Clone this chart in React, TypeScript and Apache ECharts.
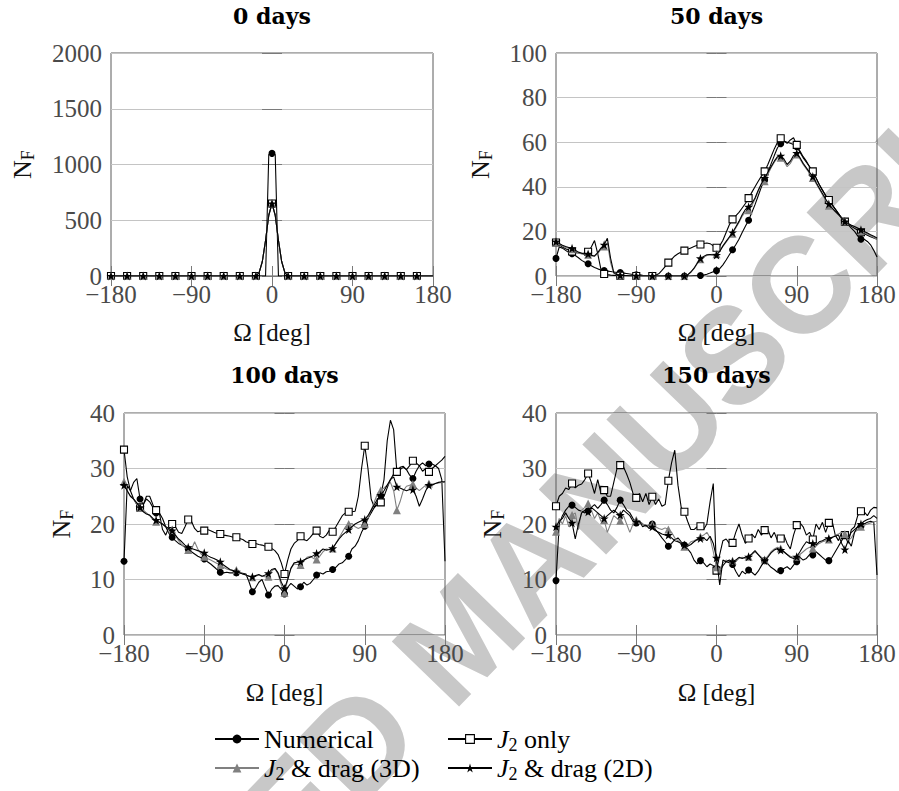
import React, { useEffect, useRef } from 'react';
import * as echarts from 'echarts';

// ---------- data ----------
// Omega grid: bin centres every 3.6 deg from -180 to 180 (101 samples)
const OMEGA: number[] = Array.from({ length: 101 }, (_, k) => Math.round((-180 + 3.6 * k) * 10) / 10);

const PANEL_TITLES = ['0 days', '50 days', '100 days', '150 days'];
const Y_MAX = [2000, 100, 40, 40];
const Y_STEP = [500, 20, 10, 10];
const SERIES_NAMES = ['Numerical', 'J2 only', 'J2 & drag (3D)', 'J2 & drag (2D)'];

// ---- 0 days ----
const P1_NUMERICAL = [
  0, 0, 0, 0, 0, 0, 0, 0, 0, 0,
  0, 0, 0, 0, 0, 0, 0, 0, 0, 0,
  0, 0, 0, 0, 0, 0, 0, 0, 0, 0,
  0, 0, 0, 0, 0, 0, 0, 0, 0, 0,
  0, 0, 0, 0, 0, 0, 0, 0, 0, 1090,
  1100, 1090, 0, 0, 0, 0, 0, 0, 0, 0,
  0, 0, 0, 0, 0, 0, 0, 0, 0, 0,
  0, 0, 0, 0, 0, 0, 0, 0, 0, 0,
  0, 0, 0, 0, 0, 0, 0, 0, 0, 0,
  0, 0, 0, 0, 0, 0, 0, 0, 0, 0,
  0,
];
const P1_J2 = [
  0, 0, 0, 0, 0, 0, 0, 0, 0, 0,
  0, 0, 0, 0, 0, 0, 0, 0, 0, 0,
  0, 0, 0, 0, 0, 0, 0, 0, 0, 0,
  0, 0, 0, 0, 0, 0, 0, 0, 0, 0,
  0, 0, 0, 0, 0, 0, 30, 130, 320, 545,
  650, 545, 320, 130, 30, 0, 0, 0, 0, 0,
  0, 0, 0, 0, 0, 0, 0, 0, 0, 0,
  0, 0, 0, 0, 0, 0, 0, 0, 0, 0,
  0, 0, 0, 0, 0, 0, 0, 0, 0, 0,
  0, 0, 0, 0, 0, 0, 0, 0, 0, 0,
  0,
];
const P1_DRAG3D = [
  0, 0, 0, 0, 0, 0, 0, 0, 0, 0,
  0, 0, 0, 0, 0, 0, 0, 0, 0, 0,
  0, 0, 0, 0, 0, 0, 0, 0, 0, 0,
  0, 0, 0, 0, 0, 0, 0, 0, 0, 0,
  0, 0, 0, 0, 0, 0, 30, 130, 320, 545,
  650, 545, 320, 130, 30, 0, 0, 0, 0, 0,
  0, 0, 0, 0, 0, 0, 0, 0, 0, 0,
  0, 0, 0, 0, 0, 0, 0, 0, 0, 0,
  0, 0, 0, 0, 0, 0, 0, 0, 0, 0,
  0, 0, 0, 0, 0, 0, 0, 0, 0, 0,
  0,
];
const P1_DRAG2D = [
  0, 0, 0, 0, 0, 0, 0, 0, 0, 0,
  0, 0, 0, 0, 0, 0, 0, 0, 0, 0,
  0, 0, 0, 0, 0, 0, 0, 0, 0, 0,
  0, 0, 0, 0, 0, 0, 0, 0, 0, 0,
  0, 0, 0, 0, 0, 0, 30, 130, 320, 545,
  650, 545, 320, 130, 30, 0, 0, 0, 0, 0,
  0, 0, 0, 0, 0, 0, 0, 0, 0, 0,
  0, 0, 0, 0, 0, 0, 0, 0, 0, 0,
  0, 0, 0, 0, 0, 0, 0, 0, 0, 0,
  0, 0, 0, 0, 0, 0, 0, 0, 0, 0,
  0,
];

// ---- 50 days ----
const P2_NUMERICAL = [
  7.9,
  13, 12.5, 11.5, 10.5, 10,
  9.2, 8.2, 7, 6.2, 5.5,
  4.6, 3.8, 3.2, 2.7, 2.4,
  2.2, 2.0, 1.8, 1.6, 1.5,
  1.3, 1.1, 0.9, 0.7, 0.6,
  0.5, 0.3, 0.2, 0.1, 0,
  0, 0, 0, 0, 0,
  0, 0, 0, 0, 0,
  0, 0, 0.1, 0.1, 0.2,
  0.4, 0.8, 1.3, 1.9, 2.4,
  3.3, 5, 7.2, 9.5, 11.8,
  14, 16.5, 19.5, 22.3, 25,
  28.5, 32, 36, 40, 43,
  46.5, 50.3, 54, 57.5, 59.3,
  60.5, 60, 59.5, 59, 58,
  55.5, 53, 51, 49, 46.9,
  44, 41, 38.5, 36, 34,
  32, 30, 28, 26, 24.4,
  23, 21.5, 20, 18, 16.5,
  16.5, 15.5, 14, 11.5, 8.5,
];
const P2_J2 = [
  15,
  14, 13, 12.2, 11.5, 11,
  10.5, 10.3, 10.2, 10.3, 10.9,
  13, 15.9, 10, 3, 0.9,
  0.6, 0.4, 0.3, 0.2, 0.1,
  0.1, 0, 0, 0, 0,
  0, 0, 0, 0, 0,
  0.3, 1, 2.5, 4.2, 6,
  7.5, 9, 10, 10.8, 11.4,
  12, 12.6, 13.2, 13.8, 14.1,
  14.6, 14.8, 14.5, 13.5, 12.7,
  13.5, 16, 19.5, 23, 25.4,
  27, 28.5, 30.5, 32.5, 34.9,
  37.5, 40, 42.5, 44.8, 46.9,
  50, 53.5, 57, 60, 61.8,
  60.5, 59.5, 61, 62, 58.8,
  56, 53.5, 51.5, 49, 46.9,
  44, 41, 38.5, 36.2, 34.1,
  32, 30, 28, 26, 24.4,
  23.3, 22.3, 21.4, 20.5, 19.6,
  19, 18.3, 17.6, 17, 16.5,
];
const P2_DRAG3D = [
  15,
  14.2, 13.4, 12.8, 12.4, 12,
  11.2, 10.4, 9.9, 9.6, 9.5,
  9, 8.8, 10, 12, 13.2,
  15, 6, 1.2, 0.4, 0.3,
  0.2, 0.1, 0.1, 0.1, 0.1,
  0, 0, 0, 0, 0,
  0, 0, 0, 0, 0,
  0, 0, 0, 0, 0,
  0.5, 1.6, 3.3, 5.5, 7.5,
  8.5, 9.2, 9.6, 9.7, 9.8,
  11.2, 13.3, 15.2, 17.2, 19,
  21.5, 24, 26.8, 28.8, 29.5,
  31.5, 34.5, 38, 41, 42.5,
  45.5, 48.5, 51, 53, 53,
  51.5, 49, 50.5, 53, 54.5,
  52.5, 50, 48, 46, 44,
  41.5, 39, 36.5, 34, 31.5,
  30, 28.7, 27.3, 26, 24.5,
  23.6, 22.8, 22, 21.2, 20.2,
  19.5, 18.8, 18, 17.3, 16.5,
];
const P2_DRAG2D = [
  15.4,
  14.6, 13.8, 13.2, 12.8, 12.4,
  11.5, 10.7, 10.2, 9.9, 9.9,
  9.3, 9, 10.5, 12.5, 14,
  16.9, 8, 1.5, 0.5, 0.3,
  0.2, 0.2, 0.1, 0.1, 0.1,
  0.1, 0, 0, 0, 0,
  0, 0, 0, 0, 0,
  0, 0, 0, 0, 0,
  0.5, 1.8, 3.5, 5.8, 7.9,
  8.8, 9.5, 9.6, 9.4, 9.4,
  11, 13.5, 15.5, 17.5, 19.5,
  22, 24.5, 27.5, 29.8, 31,
  32.5, 35, 38.5, 41.5, 43.9,
  46.5, 49, 51.5, 53.5, 53.9,
  52.5, 50, 51.5, 54, 55.1,
  53, 50.5, 48.5, 46.5, 44.6,
  42, 39.5, 37, 34.5, 32.3,
  30.5, 29, 27.5, 26, 24.4,
  23.5, 22.8, 22.2, 21.5, 20.7,
  20, 19.3, 18.5, 17.8, 17,
];

// ---- 100 days ----
const P3_NUMERICAL = [
  13.3,
  27, 26, 27.5, 28.2, 24.5,
  23.5, 25, 25, 23.5, 22,
  22, 21, 19.5, 18.3, 17.6,
  17, 16.5, 16.2, 15.8, 15.5,
  15, 14.6, 14.2, 13.9, 13.7,
  13.2, 12.8, 12.3, 11.8, 11.3,
  11.2, 11.3, 11.2, 11.2, 11.2,
  11.2, 11.1, 11, 9.5, 7.8,
  8.5, 9.5, 10, 8.5, 7.2,
  8.2, 8.8, 8.9, 8.2, 7.4,
  8.6, 9.3, 8.8, 8.3, 8.7,
  9.5, 9, 9.3, 10, 10.8,
  11.2, 11, 11.4, 11.5, 11.8,
  12.2, 12.8, 13, 13.6, 14.2,
  15.5, 16, 17, 18.5, 19.6,
  21, 22, 23, 24, 25.2,
  28, 35, 38.7, 37, 29.4,
  29.8, 30.2, 29.8, 28.8, 28.2,
  29.5, 30.5, 31, 30.5, 30.8,
  30.8, 30.5, 30, 28, 13.3,
];
const P3_J2 = [
  33.4,
  28.5, 26, 24.5, 23.5, 23,
  23.5, 24.5, 24, 23, 22.5,
  22, 19, 18, 19.5, 20,
  19.5, 18.5, 18.3, 19.5, 20.8,
  20.5, 19.2, 18.6, 18.8, 18.8,
  19, 18.8, 18.5, 18.3, 18.2,
  18, 17.9, 17.8, 17.6, 17.6,
  17.4, 17.2, 16.8, 16.6, 16.4,
  16.5, 16.3, 16.2, 16, 15.9,
  15.6, 15.2, 14.5, 13, 11,
  13.5, 15.5, 16.5, 17, 17.8,
  17.2, 17, 17.6, 18.3, 18.8,
  17.8, 17.5, 18, 18.9, 18.6,
  19.5, 20.5, 21.5, 22, 22.2,
  22.2, 22.3, 25, 30, 34.1,
  30, 24.5, 23, 23.5, 23.9,
  25, 26.5, 28, 29, 29.4,
  30.2, 30.4, 29.8, 30.5, 31.4,
  31, 30.5, 29.5, 30, 29.4,
  30, 30.5, 31, 31.5, 32.2,
];
const P3_DRAG3D = [
  27.6,
  26, 25, 24.5, 23.5, 23,
  22.5, 22, 21.5, 20.8, 20.4,
  20.4, 20, 19.5, 19.2, 19,
  18, 17, 16.3, 15.8, 15.3,
  15.4, 16.8, 15.5, 14.6, 14.1,
  13.8, 13.5, 13.2, 12.9, 12.6,
  12.2, 11.9, 11.7, 11.6, 11.7,
  11.4, 11, 10.8, 10.6, 10.4,
  10.6, 10.8, 10.6, 10.5, 10.5,
  11.5, 12, 11, 9, 7.6,
  10, 12, 12.8, 12.7, 12.6,
  13.3, 14, 14.2, 13.8, 13.6,
  14.2, 15, 15.5, 15.4, 15.6,
  16.5, 17.5, 18.5, 19.5, 20,
  20.1, 19.5, 19.2, 19.5, 20,
  21, 22.5, 24, 25.5, 26.1,
  26.5, 27, 27.5, 26, 22.5,
  24, 26, 26.8, 27, 27.2,
  26.5, 26, 26.5, 27, 27.3,
  27.2, 27.3, 27.4, 27.5, 27.5,
];
const P3_DRAG2D = [
  27,
  26, 25, 24.5, 23.8, 23,
  22.2, 21.8, 21.6, 21, 20.7,
  20.3, 20, 19.5, 19.2, 18.8,
  18, 17.3, 16.8, 16.2, 15.8,
  15.6, 15.4, 15.2, 15, 14.8,
  14.3, 14, 13.8, 13.5, 13.2,
  12.6, 12.2, 11.8, 11.6, 11.4,
  11.2, 11, 10.8, 10.6, 10.5,
  10.7, 10.9, 10.6, 10.8, 11.1,
  11.8, 12, 11.2, 9.5, 8.4,
  10, 12, 13, 13.1, 13.2,
  13.5, 13.8, 14, 14.3, 14.7,
  15, 15.5, 15.3, 15.4, 15.6,
  16.5, 17.3, 18, 18.5, 19,
  19.5, 20, 20.3, 20.6, 20.8,
  21.5, 22.5, 23.5, 24.5, 25.2,
  26, 27, 28, 28.5, 26.7,
  26.5, 26.2, 26, 26.2, 26.2,
  25, 23.2, 24.5, 26, 27,
  27, 27.3, 27.5, 27.6, 27.6,
];

// ---- 150 days ----
const P4_NUMERICAL = [
  9.8,
  20, 21.5, 22.5, 23.2, 23.4,
  23, 22.5, 22.3, 22, 22.4,
  23, 23.5, 22.8, 23.5, 24.3,
  23.5, 22.5, 22, 23, 24.3,
  23.5, 22.5, 22, 21, 20.2,
  20.5, 20, 19.6, 19.8, 20,
  19, 18.3, 17.5, 16.8, 16,
  16.5, 17.2, 17.5, 16.8, 16.2,
  15.5, 14.8, 13.5, 12.8, 13.4,
  13, 12.3, 12.8, 12.5, 12,
  11.5, 12.5, 13.2, 13, 12.7,
  11.5, 10.5, 11.5, 11, 11.7,
  11.3, 10.8, 11.5, 12.5, 13.4,
  12.8, 12.2, 11.8, 11.3, 11.6,
  12, 12.3, 11.8, 12.6, 13.2,
  14, 13.5, 13.8, 14.5, 14.4,
  15, 14.5, 14, 13.5, 13.4,
  14, 15, 16, 17, 18,
  17.5, 18.5, 19, 19.5, 19.6,
  20, 20.3, 20.5, 20.3, 10.8,
];
const P4_J2 = [
  23.2,
  25, 25.5, 26.5, 26.2, 27.3,
  26.5, 27, 27.2, 28, 29.1,
  27.5, 25.5, 28, 25.5, 26.1,
  25, 25, 27.5, 30, 30.6,
  30.3, 29, 27.5, 25.5, 24.7,
  25.5, 24, 25.5, 23.5, 24.9,
  23.5, 24.5, 23.2, 23.5, 27.8,
  31, 33.3, 27, 23, 22.2,
  20.5, 19, 19, 19.5, 19.6,
  19, 20, 24, 27.3, 11.6,
  14.5, 17, 17.3, 16.5, 16.6,
  18.5, 20, 18, 16.5, 17.4,
  18.2, 17.5, 19, 18, 18.9,
  19, 17.5, 18.5, 17, 17.4,
  18, 16.5, 15.5, 18, 19.8,
  20.2, 19.5, 18, 18.5, 17.2,
  20, 19, 20.3, 18.5, 20.2,
  20.6, 18, 17, 18.5, 18,
  16.5, 19, 19.5, 21.5, 22.3,
  22.2, 21.5, 22.5, 23, 22.9,
];
const P4_DRAG3D = [
  18.6,
  21, 20, 21.5, 19.5, 21.6,
  22, 19, 22.5, 23, 23.7,
  22.5, 21, 22, 20.5, 20.7,
  18.5, 20, 21.5, 21, 20.6,
  21.5, 20, 18.5, 20, 20.7,
  20.5, 20, 19.5, 19.8, 19.9,
  19.5, 19.2, 19, 19.3, 19,
  18.5, 17.5, 17, 16.5, 15.9,
  16.2, 16.8, 17, 17.3, 17.7,
  18, 18.5, 17.5, 15, 12.2,
  11.5, 13, 13.5, 13.2, 13.4,
  13.2, 13.8, 14, 13.8, 14.1,
  14.5, 15, 14.5, 14, 13.6,
  14.2, 15, 15.5, 15.8, 15.6,
  15, 14.5, 14.2, 14, 14.1,
  14.5, 15, 15.5, 15.8, 15.6,
  16, 16.5, 16.8, 17, 17.2,
  17.5, 18, 18.2, 18.5, 18.2,
  17, 17.5, 18.5, 19, 19.5,
  19.8, 20, 20.2, 20.4, 20.5,
];
const P4_DRAG2D = [
  19.5,
  20.5, 21, 22, 21, 20.2,
  17.3, 20, 22, 22.5, 22.2,
  23, 22.5, 22, 21.5, 21,
  21.5, 22, 22.5, 22, 21.6,
  22.5, 22, 21.5, 20.5, 20.4,
  20.5, 19.5, 19.8, 19.2, 19.5,
  18.8, 18.5, 18.2, 18, 18,
  17.5, 17, 16.8, 16.5, 16.2,
  16, 16.3, 16.8, 17.2, 17.4,
  17.5, 17, 17.8, 16.5, 13.9,
  9, 13.5, 13.2, 13.5, 13.2,
  13.5, 14, 13.8, 14, 14.1,
  14.6, 15.2, 14.5, 13.8, 13.4,
  14, 14.8, 15.3, 15.6, 15.3,
  15, 14.5, 14, 13.8, 14.1,
  15, 16, 16.8, 16.5, 16.5,
  16.2, 16.8, 17, 17.3, 17.4,
  17.6, 17.8, 18, 16.5, 15.4,
  17, 16, 18.5, 19.5, 20,
  20.5, 20.8, 21, 21.5, 21,
];

const PANELS = [
  [P1_NUMERICAL, P1_J2, P1_DRAG3D, P1_DRAG2D],
  [P2_NUMERICAL, P2_J2, P2_DRAG3D, P2_DRAG2D],
  [P3_NUMERICAL, P3_J2, P3_DRAG3D, P3_DRAG2D],
  [P4_NUMERICAL, P4_J2, P4_DRAG3D, P4_DRAG2D],
];

// ---------- layout & style ----------
const GRIDS = [
  { left: 111, top: 53, width: 322, height: 223 },
  { left: 556, top: 53, width: 321, height: 223 },
  { left: 124, top: 413, width: 321, height: 222 },
  { left: 556, top: 413, width: 321, height: 222 },
];
const YLABEL_X = [22, 480, 61, 492];

const SERIF = 'Liberation Serif, serif';
const STAR = 'path://M50,0L61.2,34.5L97.6,34.5L68.2,55.9L79.4,90.5L50,69.1L20.6,90.5L31.8,55.9L2.4,34.5L38.8,34.5Z';

const STYLES = [
  { symbol: 'circle', size: 7, line: '#000', fill: '#000', border: 0 },
  { symbol: 'rect', size: 7, line: '#000', fill: '#fff', border: 1.1 },
  { symbol: 'triangle', size: 8, line: '#808080', fill: '#808080', border: 0 },
  { symbol: STAR, size: 9, line: '#000', fill: '#000', border: 0 },
];

const LEGEND_TEXT: Record<string, string> = {
  'Numerical': '{t|Numerical}',
  'J2 only': '{i|J}{sub|2}{t| only}',
  'J2 & drag (3D)': '{i|J}{sub|2}{t| & drag (3D)}',
  'J2 & drag (2D)': '{i|J}{sub|2}{t| & drag (2D)}',
};
const LEGEND_POS = [
  { left: 214, top: 724 },
  { left: 447, top: 724 },
  { left: 214, top: 753 },
  { left: 447, top: 753 },
];

const fmt = (v: number) => (v < 0 ? '\u2212' + Math.abs(v) : String(v));

function buildData(values: number[]) {
  return values.map((y, k) => {
    const pt = [OMEGA[k], y];
    return k % 5 === 0 && k < 100 ? pt : { value: pt, symbol: 'none' };
  });
}

function richText(x: number, y: number, text: string, rich: any, rotation = 0, z = 10) {
  return {
    type: 'text', x, y, rotation, z, silent: true,
    style: { text, rich, align: 'center', verticalAlign: 'middle' },
  };
}

function buildOption() {
  const xAxis: any[] = [];
  const yAxis: any[] = [];
  const series: any[] = [];
  const graphic: any[] = [];
  const tickStyle = { color: '#7a7a7a', width: 1 };
  const labelBase = { fontFamily: SERIF, fontSize: 25, color: '#4a4a4a' };

  GRIDS.forEach((g, p) => {
    const cx = g.left + g.width / 2;
    const cy = g.top + g.height / 2;
    xAxis.push({
      type: 'value', gridIndex: p, min: -180, max: 180, interval: 90, position: 'bottom',
      axisLine: { show: false },
      axisTick: { show: true, inside: true, length: 10, lineStyle: tickStyle },
      axisLabel: { ...labelBase, margin: 6, formatter: fmt, showMinLabel: true, showMaxLabel: true },
      splitLine: { show: false },
    });
    xAxis.push({
      type: 'value', gridIndex: p, min: -180, max: 180, interval: 90, position: 'top',
      axisLine: { show: false },
      axisTick: { show: true, inside: true, length: 10, lineStyle: tickStyle },
      axisLabel: { show: false },
      splitLine: { show: false },
    });
    yAxis.push({
      type: 'value', gridIndex: p, min: 0, max: Y_MAX[p], interval: Y_STEP[p], position: 'left',
      axisLine: { show: false },
      axisTick: { show: true, inside: true, length: 10, lineStyle: tickStyle },
      axisLabel: { ...labelBase, margin: 9, formatter: fmt, showMinLabel: true, showMaxLabel: true },
      splitLine: { show: true, lineStyle: { color: '#c4c4c4', width: 1 } },
    });
    yAxis.push({
      type: 'value', gridIndex: p, min: 0, max: Y_MAX[p], interval: Y_STEP[p], position: 'right',
      axisLine: { show: false },
      axisTick: { show: true, inside: true, length: 10, lineStyle: tickStyle },
      axisLabel: { show: false },
      splitLine: { show: false },
    });

    PANELS[p].forEach((vals, i) => {
      const s = STYLES[i];
      series.push({
        type: 'line',
        name: SERIES_NAMES[i],
        xAxisIndex: 2 * p,
        yAxisIndex: 2 * p,
        data: buildData(vals),
        symbol: s.symbol,
        symbolSize: s.size,
        showAllSymbol: true,
        lineStyle: { color: s.line, width: 1.1 },
        itemStyle: { color: s.fill, borderColor: s.line, borderWidth: s.border },
        emphasis: { disabled: true },
        silent: true,
        z: 2 + i,
      });
    });

    graphic.push(richText(cx, p < 2 ? 16 : 375, '{t|' + PANEL_TITLES[p] + '}', {
      t: { fontFamily: 'DejaVu Serif, serif', fontWeight: 'bold', fontSize: 22, lineHeight: 26, fill: '#000' },
    }));
    graphic.push(richText(cx, p < 2 ? 332 : 692, '{t|\u03A9 [deg]}', {
      t: { fontFamily: SERIF, fontSize: 25, lineHeight: 30, fill: '#111' },
    }));
    graphic.push(richText(YLABEL_X[p], cy, '{n|N}{s|F}', {
      n: { fontFamily: SERIF, fontSize: 26, lineHeight: 30, fill: '#111' },
      s: { fontFamily: SERIF, fontSize: 18, lineHeight: 18, verticalAlign: 'bottom', fill: '#111' },
    }, Math.PI / 2));
  });

  // watermark
  graphic.push(richText(461, 637, '{w|ACCEPTED MANUSCRIPT}', {
    w: { fontFamily: 'Liberation Sans, sans-serif', fontWeight: 'bold', fontSize: 136, lineHeight: 150, fill: '#c8c8c8' },
  }, (46 * Math.PI) / 180, -10));

  const legend = SERIES_NAMES.map((name, i) => {
    const s = STYLES[i];
    return {
      data: [{
        name,
        itemStyle: { color: s.fill, borderColor: s.line, borderWidth: s.border },
        lineStyle: { color: s.line, width: 2 },
      }],
      left: LEGEND_POS[i].left, top: LEGEND_POS[i].top,
      orient: 'horizontal', padding: 0, itemGap: 0,
      itemWidth: 44, itemHeight: 11, selectedMode: false,
      formatter: (n: string) => LEGEND_TEXT[n],
      textStyle: {
        fontFamily: SERIF, fontSize: 26, lineHeight: 30, color: '#000',
        rich: {
          t: { fontFamily: SERIF, fontSize: 26, lineHeight: 30, color: '#000' },
          i: { fontFamily: SERIF, fontSize: 26, lineHeight: 30, fontStyle: 'italic', color: '#000' },
          sub: { fontFamily: SERIF, fontSize: 18, lineHeight: 18, verticalAlign: 'bottom', color: '#000' },
        },
      },
    };
  });

  return {
    animation: false,
    backgroundColor: '#fff',
    textStyle: { fontFamily: SERIF },
    grid: GRIDS.map((g) => ({ ...g, show: true, borderColor: '#5a5a5a', borderWidth: 1, backgroundColor: 'transparent' })),
    xAxis, yAxis, series, legend, graphic,
  };
}

export default function App() {
  const ref = useRef<HTMLDivElement>(null);
  useEffect(() => {
    if (!ref.current) return;
    const chart = echarts.init(ref.current, undefined, { renderer: 'svg' });
    chart.setOption(buildOption() as any);
    return () => chart.dispose();
  }, []);
  return (
    <div
      ref={ref}
      style={{ position: 'fixed', left: 0, top: 0, width: 899, height: 791, background: '#fff' }}
    />
  );
}
